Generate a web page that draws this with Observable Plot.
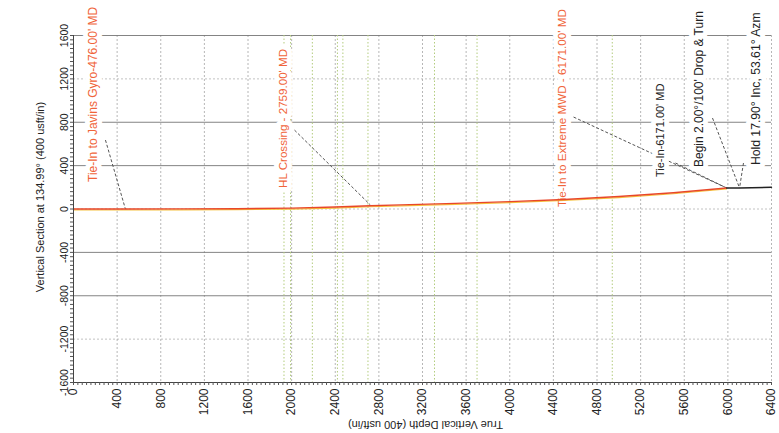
<!DOCTYPE html>
<html><head><meta charset="utf-8">
<script src="https://cdn.jsdelivr.net/npm/d3@7"></script>
<script src="https://cdn.jsdelivr.net/npm/@observablehq/plot@0.6"></script>
<style>body{margin:0;background:#fff} svg{display:block}</style>
</head><body><div id="chart"></div>
<script>
// ---- data ----
const xTicks = [0,400,800,1200,1600,2000,2400,2800,3200,3600,4000,4400,4800,5200,5600,6000,6400];
const yTicks = [-1600,-1200,-800,-400,0,400,800,1200,1600];
const yMajorGrid = [800,400,-400,-800];
const yMinorGrid = [1200,0,-1200];
const formationTVD = [1930,1990,2190,2420,2470,2700,3310,3700,4940];

const pathTVD = [0,476,1000,1500,2000,2400,2722,3000,3500,4000,4500,5000,5500,5988];
const pathVS  = [0,0,1,3,8,18,30,38,52,68,88,115,150,194];
const tailTVD = [5988,6107,6400];
const tailVS  = [194,194,200];

const labelText = [
  "Tie-In to Javins Gyro-476.00' MD",
  "HL Crossing - 2759.00' MD",
  "Tie-In to Extreme MWD - 6171.00' MD",
  "Tie-In-6171.00' MD",
  "Begin 2.00°/100' Drop & Turn",
  "Hold 17.90° Inc, 53.61° Azm"
];
const labelTVD = [180,1922,4479,5386,5740,6260];
const labelVS  = [249,194,18,295,387,405];

const leaderFromTVD = [293,2026,4585,5520,5859,6143];
const leaderFromVS  = [636,728,848,424,839,424];
const leaderToTVD   = [476,2722,5988,5988,6107,6107];
const leaderToVS    = [0,37,194,194,194,194];

const xTitle = "True Vertical Depth (400 usft/in)";
const yTitle = "Vertical Section at 134.99° (400 usft/in)";

// ---- styles ----
const ORANGE = "#f0643a", INK = "#222";
const labelStyle = [
  {c: ORANGE, s: 12}, {c: ORANGE, s: 11.6}, {c: ORANGE, s: 11.7},
  {c: INK, s: 11}, {c: INK, s: 12}, {c: INK, s: 12.2}
];

// ---- tables ----
const path = pathTVD.map((x,i)=>({x, y: pathVS[i]}));
const tail = tailTVD.map((x,i)=>({x, y: tailVS[i]}));
const labels = labelText.map((t,i)=>({t, x: labelTVD[i], y: labelVS[i]}));
const leaders = leaderFromTVD.map((x1,i)=>({x1, y1: leaderFromVS[i], x2: leaderToTVD[i], y2: leaderToVS[i]}));
const minorX = d3.range(0, 6401, 40);
const minorY = d3.range(-1600, 1601, 40);
const fmt = d => String(d);

const labelMarks = labels.map((d,i) =>
  Plot.text([d], {x: "x", y: "y", text: "t", fill: labelStyle[i].c, rotate: -90,
    textAnchor: "start", fontSize: labelStyle[i].s, stroke: "white", strokeWidth: 10}));

const chart = Plot.plot({
  width: 779, height: 433,
  marginLeft: 73, marginRight: 8, marginTop: 35, marginBottom: 51,
  style: {fontFamily: "'Liberation Sans', Arial, sans-serif", background: "#fff", color: "#222"},
  x: {domain: [0, 6400]},
  y: {domain: [-1600, 1600]},
  marks: [
    Plot.gridX(xTicks, {stroke: "#999", strokeOpacity: 0.7, strokeDasharray: "2,2"}),
    Plot.gridY(yMinorGrid, {stroke: "#999", strokeOpacity: 0.6, strokeDasharray: "2,2"}),
    Plot.gridY(yMajorGrid, {stroke: "#777", strokeOpacity: 0.9}),
    Plot.gridY([1600], {stroke: "#777", strokeOpacity: 0.9}),
    Plot.ruleX(formationTVD, {stroke: "#b3cc7e", strokeDasharray: "1.5,2", strokeWidth: 1}),
    Plot.link(leaders, {x1: "x1", y1: "y1", x2: "x2", y2: "y2", stroke: "#555", strokeDasharray: "3,2", strokeWidth: 1}),
    ...labelMarks,
    Plot.line(path, {x: "x", y: "y", stroke: "#f6c23e", strokeWidth: 1.2, dy: 1}),
    Plot.line(path, {x: "x", y: "y", stroke: "#e8472a", strokeWidth: 1.4}),
    Plot.line(tail, {x: "x", y: "y", stroke: "#222", strokeWidth: 1.4}),
    Plot.ruleX([0], {stroke: "#444"}),
    Plot.ruleY([-1600], {stroke: "#444"}),
    Plot.axisY({ticks: minorY, tickSize: 3, tickFormat: () => "", label: null, stroke: "#555"}),
    Plot.axisX({ticks: minorX, tickSize: 3, tickFormat: () => "", label: null, stroke: "#555"}),
    Plot.axisY({ticks: yTicks, tickSize: 0, tickRotate: -90, tickPadding: 6, fontSize: 10.5, tickFormat: fmt, label: null}),
    Plot.axisX({ticks: xTicks, tickSize: 0, tickRotate: -90, tickPadding: 6, fontSize: 12, tickFormat: fmt, label: null}),
    Plot.text([yTitle], {frameAnchor: "left", textAnchor: "middle", lineAnchor: "middle", dx: -33, dy: -12, rotate: -90, fontSize: 11}),
    Plot.text([xTitle], {frameAnchor: "bottom", textAnchor: "middle", lineAnchor: "middle", dx: 3, dy: 42, rotate: 180, fontSize: 11})
  ]
});
document.getElementById("chart").append(chart);
</script>
</body></html>
